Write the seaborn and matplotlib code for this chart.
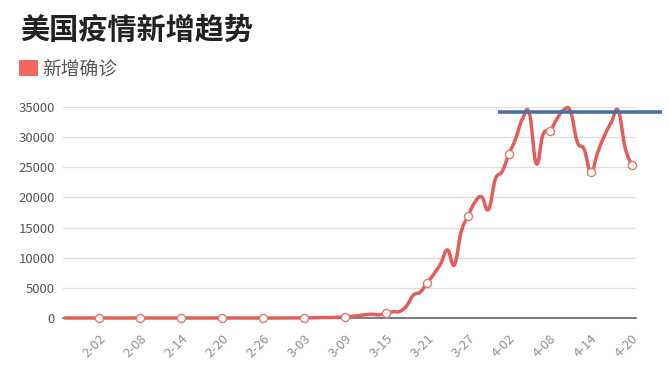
import numpy as np
import pandas as pd
import matplotlib
matplotlib.use("Agg")
import matplotlib.pyplot as plt
from matplotlib.path import Path
from matplotlib.patches import PathPatch, Patch
import seaborn as sns

# ---------------- data ----------------
title = "美国疫情新增趋势"
series_name = "新增确诊"
start_date = "2020-01-28"
end_date = "2020-04-20"
jan_vals = [0, 0, 0, 1]
feb_vals = [1, 0, 3, 0, 0, 1, 0, 0, 0, 1,
            0, 1, 0, 1, 0, 0, 0, 0, 0, 0,
            0, 1, 0, 0, 0, 0, 0, 1, 3]
mar_vals = [10, 20, 25, 30, 60, 70, 90, 120, 170, 280,
            400, 560, 620, 520, 760, 1050, 1100, 2000, 3800, 4300,
            5800, 7300, 9000, 11300, 8800, 14300, 16900, 19200, 20100, 18000,
            23000]
apr_vals = [24300, 27200, 29800, 33100, 33900, 25600, 30500, 31000, 33000, 34500,
            34300, 29200, 28000, 24200, 27500, 30300, 32500, 34400, 28300, 25300]
y_ticks = [0, 5000, 10000, 15000, 20000, 25000, 30000, 35000]
ref_level = 34200          # hand-drawn blue reference line
ref_from_label = "4-01"

dates = pd.date_range(start_date, end_date)
labels = [f"{d.month}-{d.day:02d}" for d in dates]
values = np.array(jan_vals + feb_vals + mar_vals + apr_vals, dtype=float)
idx = np.arange(len(values))
tick_idx = idx[5::6]

df = pd.DataFrame({"i": idx, "v": values, "label": labels})
marks = df.iloc[tick_idx]

# ---------------- style ----------------
sns.set_theme(style="white")
plt.rcParams["font.family"] = ["Noto Sans CJK SC", "DejaVu Sans"]

line_color = "#e15f58"
legend_color = "#f0695d"

W, H = 669, 377
fig = plt.figure(figsize=(W / 100, H / 100), dpi=100)
ax = fig.add_axes([63 / W, 59 / H, (636 - 63) / W, 211 / H])

xmin, xmax = -0.3, 83.6
ax.set_xlim(xmin, xmax)
ax.set_ylim(0, 35000)

# --- smooth line (cardinal bezier) built from the data points ---
xs, ys = df["i"].to_numpy(float), df["v"].to_numpy(float)
n = len(xs)
verts = [(xs[0], ys[0])]
codes = [Path.MOVETO]
cps_prev, cps_next = [], []
tension = 0.21
for k in range(n):
    pk = k - 1 if k > 0 else k
    nk = k + 1 if k < n - 1 else k
    vx, vy = xs[nk] - xs[pk], ys[nk] - ys[pk]
    cps_prev.append((xs[k] - vx * tension, ys[k] - vy * tension))
    cps_next.append((xs[k] + vx * tension, ys[k] + vy * tension))
for k in range(n - 1):
    verts += [cps_next[k], cps_prev[k + 1], (xs[k + 1], ys[k + 1])]
    codes += [Path.CURVE4] * 3
patch = PathPatch(Path(verts, codes), facecolor="none", edgecolor=line_color,
                  lw=2.5, capstyle="round", joinstyle="round", clip_on=False, zorder=4)
ax.add_patch(patch)

sns.scatterplot(data=marks, x="i", y="v", ax=ax, s=34, color="white",
                edgecolor="#d77b74", linewidth=1.0, zorder=6, clip_on=False, legend=False)

# reference line
ref_x0 = labels.index(ref_from_label) - 0.6
ax.plot([ref_x0, ref_x0 + 24], [ref_level, ref_level], color="#4a70a8", lw=2.6,
        solid_capstyle="butt", clip_on=False, zorder=7)

# axes styling
ax.set_yticks(y_ticks)
ax.set_yticklabels([str(t) for t in y_ticks])
ax.set_xticks(tick_idx)
ax.set_xticklabels([labels[i] for i in tick_idx])
ax.grid(axis="y", color="#dedede", lw=0.9)
ax.grid(axis="x", visible=False)
for s in ["left", "right", "top"]:
    ax.spines[s].set_visible(False)
ax.spines["bottom"].set_color("#666666")
ax.spines["bottom"].set_linewidth(1.2)
ax.tick_params(axis="y", length=0, pad=6, labelsize=9.5, labelcolor="#555555")
ax.tick_params(axis="x", length=0, pad=10, labelsize=9.5, labelcolor="#8f8f8f")
for t in ax.get_xticklabels():
    t.set_rotation(45)
    t.set_ha("right")
    t.set_rotation_mode("anchor")
ax.set_xlabel("")
ax.set_ylabel("")

fig.text(20 / W, 1 - 30 / H, title, fontsize=21, fontweight="bold", color="#222222",
         va="center", ha="left")
ax.legend(handles=[Patch(facecolor=legend_color, edgecolor="none", label=series_name)],
          loc="center left", bbox_to_anchor=(19 / W, 1 - 69 / H),
          bbox_transform=fig.transFigure, frameon=False, fontsize=13.5,
          handlelength=1.0, handleheight=1.0, handletextpad=0.25,
          borderpad=0, borderaxespad=0, labelcolor="#555555")

fig.savefig("out.png", dpi=100, facecolor="white")
